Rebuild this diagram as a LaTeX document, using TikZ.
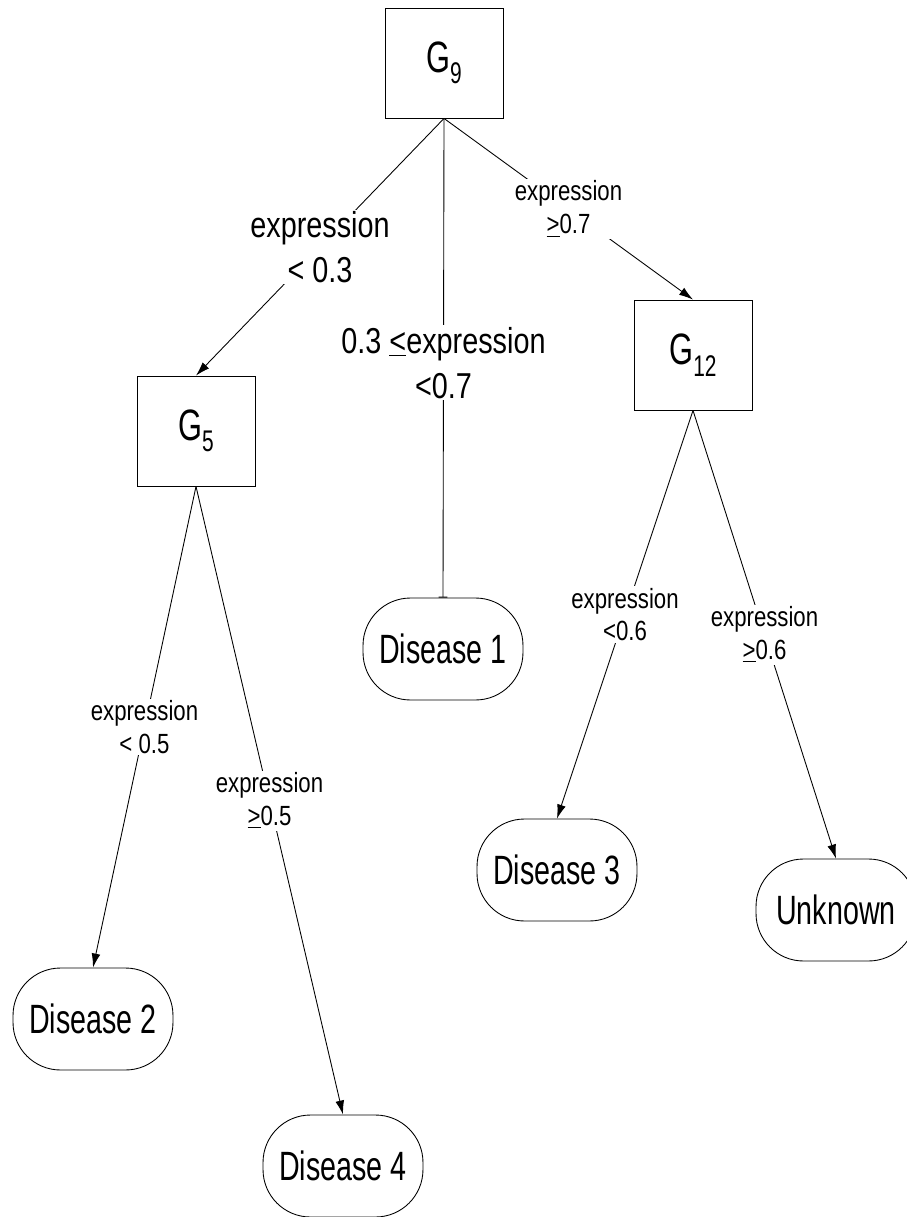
\documentclass[tikz,border=0pt]{standalone}
\usepackage{fontspec}
\setmainfont{Liberation Sans}[FakeStretch=0.8]
\newfontfamily\tallfont{Liberation Sans}[FakeStretch=0.7]
\usetikzlibrary{arrows.meta}
\newcommand{\Gname}[1]{G\raisebox{-0.5ex}{\fontsize{17}{17}\selectfont #1}}

\begin{document}
\begin{tikzpicture}[x=0.02cm,y=-0.02cm,
  gene/.style={draw,line width=0.5pt,minimum width=2.36cm,minimum height=2.2cm,font=\tallfont\fontsize{25}{28}\selectfont},
  leaf/.style={draw,line width=0.5pt,rounded corners=0.95cm,minimum width=3.2cm,minimum height=2.04cm,font=\tallfont\fontsize{23.3}{26}\selectfont},
  cond/.style={fill=white,align=center,inner sep=1pt,font=\fontsize{15.8}{18.7}\selectfont},
  bigcond/.style={fill=white,align=center,inner sep=1pt,font=\fontsize{20.5}{25.5}\selectfont},
  edge/.style={line width=0.5pt,-{Latex[length=8pt,width=5pt]}}]
\useasboundingbox (0,0) rectangle (906,1217);
% genes
\node[gene] (g9) at (444,63) {\Gname{9}};
\node[gene] (g5) at (196,431) {\Gname{5}};
\node[gene] (g12) at (693,355) {\Gname{12}};
% outcomes
\node[leaf] (d1) at (443,649) {Disease 1};
\node[leaf] (d2) at (93,1019) {Disease 2};
\node[leaf] (d4) at (343,1166) {Disease 4};
\node[leaf] (d3) at (557,870) {Disease 3};
\node[leaf] (unk) at (836,910) {Unknown};
% splits
\draw[edge] (g9.south) -- node[bigcond] {expression\\< 0.3} (g5.north);
\draw[line width=0.5pt,-{Bar[width=5pt]}] (g9.south) -- node[bigcond,pos=0.51] {0.3 \underline{<}expression\\<0.7} (d1.north);
\draw[edge] (g9.south) -- node[cond] {expression\\\underline{>}0.7} (g12.north);
\draw[edge] (g5.south) -- node[cond] {expression\\< 0.5} (d2.north);
\draw[edge] (g5.south) -- node[cond] {expression\\\underline{>}0.5} (d4.north);
\draw[edge] (g12.south) -- node[cond] {expression\\<0.6} (d3.north);
\draw[edge] (g12.south) -- node[cond] {expression\\\underline{>}0.6} (unk.north);
\end{tikzpicture}
\end{document}
